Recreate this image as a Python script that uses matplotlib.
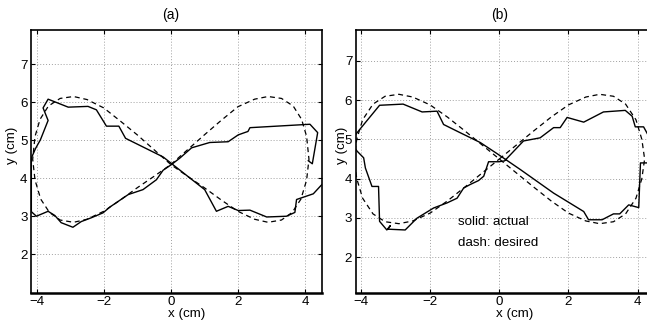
import matplotlib
matplotlib.use("Agg")
import matplotlib.pyplot as plt
from matplotlib.transforms import blended_transform_factory

plt.rcParams['font.family'] = ['Liberation Sans', 'DejaVu Sans']

# ---------------- data ----------------
xticks = [-4, -2, 0, 2, 4]
yticks = [2, 3, 4, 5, 6, 7]
titles = ['(a)', '(b)']

# panel (a) desired (dashed)
a_des_x = [0, 0.5, 1.0, 1.5, 2.0, 2.5, 2.9, 3.3, 3.65, 3.9, 4.05, 4.12, 4.05, 3.88, 3.62, 3.3,
           2.9, 2.5, 2.0, 1.5, 1.0, 0.5, 0,
           -0.5, -1.0, -1.5, -2.0, -2.5, -2.9, -3.3, -3.65, -3.9, -4.05, -4.12, -4.05, -3.88, -3.62, -3.3,
           -2.9, -2.5, -2.0, -1.5, -1.0, -0.5, 0]
a_des_y = [4.36, 4.75, 5.14, 5.52, 5.88, 6.08, 6.15, 6.1, 5.9, 5.55, 5.1, 4.5, 3.95, 3.45, 3.1, 2.9,
           2.84, 2.92, 3.13, 3.43, 3.75, 4.05, 4.36,
           4.75, 5.14, 5.5, 5.85, 6.07, 6.15, 6.1, 5.9, 5.55, 5.1, 4.5, 3.95, 3.45, 3.1, 2.9,
           2.84, 2.92, 3.13, 3.43, 3.75, 4.05, 4.36]

# panel (a) actual (solid)
a_act_x = [4.6, 4.48, 4.25, 3.75, 3.70, 3.45, 2.86, 2.36, 2.01, 1.71, 1.36, 1.01, -0.23,
           -1.35, -1.55, -1.92, -2.22, -2.47, -3.06, -3.66, -3.81, -3.66, -3.89, -4.03, -4.16,
           -4.16, -4.01, -3.66, -3.46, -3.27, -2.92, -2.67, -2.37, -2.02, -1.82, -1.27, -0.83,
           -0.43, -0.23, 0.02, 0.27, 0.62, 1.16, 1.71, 2.01, 2.2, 2.3, 2.36, 4.15, 4.38, 4.22, 4.10]
a_act_y = [3.9, 3.81, 3.59, 3.44, 3.10, 3.0, 2.98, 3.16, 3.15, 3.26, 3.13, 3.70, 4.56,
           5.05, 5.37, 5.37, 5.80, 5.89, 5.87, 6.08, 5.85, 5.52, 5.01, 4.79, 4.53,
           3.12, 3.0, 3.13, 3.02, 2.83, 2.71, 2.86, 2.96, 3.09, 3.24, 3.57, 3.70,
           3.96, 4.21, 4.36, 4.53, 4.80, 4.94, 4.96, 5.14, 5.2, 5.23, 5.33, 5.42, 5.2, 4.38, 4.46]

# panel (b) desired (dashed)
b_des_x = [0, 0.5, 1.0, 1.5, 2.0, 2.5, 2.9, 3.3, 3.65, 3.95, 4.12, 4.2, 4.12, 3.95, 3.65, 3.3,
           2.9, 2.5, 2.0, 1.5, 1.0, 0.5, 0,
           -0.5, -1.0, -1.5, -2.0, -2.5, -2.9, -3.3, -3.65, -3.95, -4.12, -4.2, -4.12, -3.95, -3.65, -3.3,
           -2.9, -2.5, -2.0, -1.5, -1.0, -0.5, 0]
b_des_y = [4.5, 4.86, 5.22, 5.57, 5.88, 6.08, 6.15, 6.1, 5.9, 5.5, 5.0, 4.5, 4.0, 3.5, 3.1, 2.9,
           2.85, 2.92, 3.12, 3.43, 3.78, 4.14, 4.5,
           4.86, 5.22, 5.57, 5.88, 6.08, 6.15, 6.1, 5.9, 5.5, 5.0, 4.5, 4.0, 3.5, 3.1, 2.9,
           2.85, 2.92, 3.12, 3.43, 3.78, 4.14, 4.5]

# panel (b) actual (solid)
b_act_x = [4.4, 4.17, 4.08, 4.03, 3.74, 3.48, 3.30, 2.97, 2.58, 2.44, 1.57, 0.61, -0.07,
           -0.55, -1.13, -1.61, -1.80, -2.23, -2.78, -3.46, -3.87, -4.11, -4.3, -4.11,
           -3.92, -3.87, -3.68, -3.49, -3.46, -3.25, -3.15, -3.22, -2.72, -2.38, -1.90, -1.51,
           -1.22, -1.03, -0.84, -0.60, -0.45, -0.31, -0.02, 0.15, 0.70, 1.18, 1.57, 1.76,
           1.96, 2.44, 3.01, 3.64, 3.84, 3.93, 4.17, 4.4]
b_act_y = [4.40, 4.40, 4.40, 3.26, 3.33, 3.10, 3.10, 2.95, 2.95, 3.16, 3.63, 4.23, 4.64,
           4.92, 5.17, 5.38, 5.72, 5.70, 5.90, 5.87, 5.43, 5.17, 4.95, 4.70,
           4.53, 4.27, 3.80, 3.80, 2.91, 2.69, 2.80, 2.71, 2.69, 2.99, 3.25, 3.38,
           3.50, 3.76, 3.85, 3.95, 4.06, 4.43, 4.43, 4.45, 4.96, 5.04, 5.30, 5.30,
           5.56, 5.44, 5.70, 5.74, 5.59, 5.32, 5.32, 4.95]

text_lines = ['solid: actual', 'dash: desired']

# ---------------- figure ----------------
W, H = 647, 324
fig = plt.figure(figsize=(W / 100, H / 100), dpi=100)

def px_axes(l, r, t, b):
    return [l / W, (H - b) / H, (r - l) / W, (b - t) / H]

ax_a = fig.add_axes(px_axes(31, 321.7, 30, 293))
ax_b = fig.add_axes(px_axes(355.7, 655.0, 30, 292.7))

panels = [
    (ax_a, a_des_x, a_des_y, a_act_x, a_act_y, (-4.17, 4.5), (0.98, 7.9), (0.536, -0.080), (-0.064, 0.563)),
    (ax_b, b_des_x, b_des_y, b_act_x, b_act_y, (-4.15, 4.5), (1.09, 7.79), (0.532, -0.081), (-0.047, 0.562)),
]

FS = 9.6
for i, (ax, dx, dy, sx, sy, xl, yl, xlab, ylab) in enumerate(panels):
    ax.plot(dx, dy, color='black', lw=0.9, ls=(0, (4, 3)))
    ax.plot(sx, sy, color='black', lw=1.0)
    ax.set_xlim(*xl)
    ax.set_ylim(*yl)
    ax.set_xticks(xticks)
    ax.set_yticks(yticks)
    ax.set_xticklabels(['\u2212' + str(abs(v)) if v < 0 else str(v) for v in xticks])
    ax.grid(True, color='#a0a0a0', ls=(0, (1, 2)), lw=0.7)
    ax.tick_params(direction='in', length=3, width=0.8, labelsize=FS, pad=2.5,
                   top=True, right=True, colors='black')
    for side, sp in ax.spines.items():
        sp.set_linewidth(1.2)
    ax.spines['bottom'].set_linewidth(1.8)
    ax.set_xlabel('x (cm)', fontsize=FS, va='center')
    ax.set_ylabel('y (cm)', fontsize=FS, va='center')
    ax.xaxis.set_label_coords(*xlab)
    ax.yaxis.set_label_coords(*ylab)
    tr = blended_transform_factory(ax.transData, ax.transAxes)
    ax.text(0, 1 + 15 / 263, titles[i], transform=tr, ha='center', va='center', fontsize=10)

ax_b.text(-1.19, 2.9, text_lines[0], fontsize=FS, ha='left', va='center')
ax_b.text(-1.19, 2.37, text_lines[1], fontsize=FS, ha='left', va='center')

fig.savefig('out.png', dpi=100)
